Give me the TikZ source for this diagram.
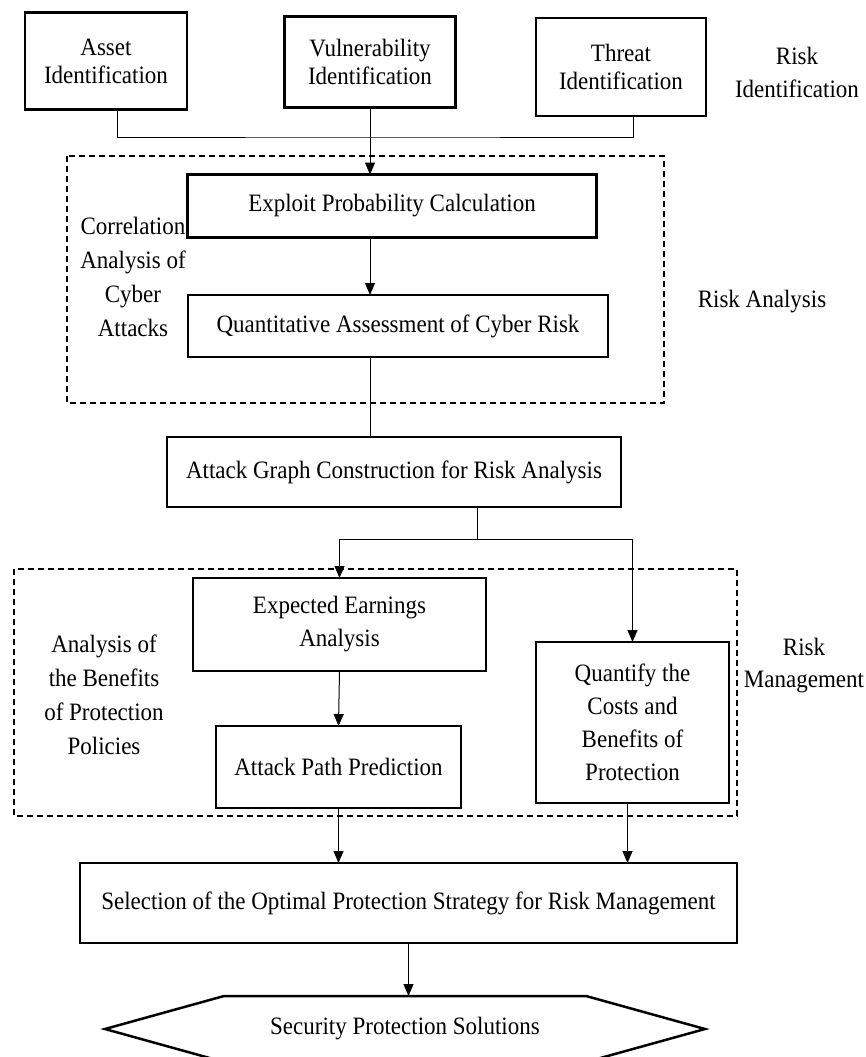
\documentclass[tikz,border=0pt]{standalone}
\usepackage{fontspec}
\setmainfont{Liberation Serif}[FakeStretch=0.92]
\usetikzlibrary{arrows.meta, calc, shapes.symbols}

\tikzset{
  blockbox/.style={draw, line width=2.5pt, inner sep=0pt, outer sep=0pt, align=center,
    font=\fontsize{25}{33}\selectfont},
  toptext/.style={font=\fontsize{25}{28}\selectfont},
  sidenote/.style={align=center, inner sep=0pt, font=\fontsize{25}{34}\selectfont},
  groupframe/.style={draw, line width=2pt, dash pattern=on 6pt off 4pt},
  link/.style={line width=1pt},
  flow/.style={line width=1pt, -{Triangle[length=12pt,width=10pt]}},
}

\begin{document}
\begin{tikzpicture}[x=1pt, y=-1pt]
    \useasboundingbox (0,0) rectangle (866,1057);

    \node[blockbox, toptext, minimum width=162, minimum height=97] (asset) at (106,61) {Asset\\Identification};
    \node[blockbox, toptext, minimum width=171, minimum height=91] (vuln) at (370,62) {Vulnerability\\Identification};
    \node[blockbox, toptext, minimum width=170, minimum height=98] (threat) at (621,67) {Threat\\Identification};
    \node[sidenote, font=\fontsize{25}{33}\selectfont] (riskid) at (797,72) {Risk\\Identification};
    \coordinate (merge) at (370,137);

    \draw[groupframe] (67,156) rectangle (664,403);
    \node[blockbox, minimum width=409, minimum height=63] (exploit) at (392,206) {Exploit Probability Calculation};
    \node[blockbox, minimum width=420, minimum height=62] (quant) at (398,326) {Quantitative Assessment of Cyber Risk};
    \node[sidenote] (corr) at (133,277) {Correlation\\Analysis of\\Cyber\\Attacks};
    \node[sidenote] (riskan) at (762,302) {Risk Analysis};

    \node[blockbox, minimum width=454, minimum height=70] (graph) at (394,472) {Attack Graph Construction for Risk Analysis};
    \coordinate (split) at (477,539);

    \draw[groupframe] (14,569) rectangle (737,816);
    \node[blockbox, minimum width=293, minimum height=93] (earn) at (339.5,624.5) {Expected Earnings\\Analysis};
    \node[blockbox, minimum width=245, minimum height=82] (path) at (338.5,767) {Attack Path Prediction};
    \node[blockbox, minimum width=193, minimum height=161] (cost) at (632.5,722.5) {Quantify the\\Costs and\\Benefits of\\Protection};
    \node[sidenote] (benefit) at (104,695) {Analysis of\\the Benefits\\of Protection\\Policies};
    \node[sidenote, font=\fontsize{25}{32}\selectfont] (riskman) at (804,666) {Risk\\Management};

    \node[blockbox, minimum width=657, minimum height=80] (select) at (408.5,903) {Selection of the Optimal Protection Strategy for Risk Management};
    \node[blockbox, signal, signal to=west and east, signal pointer angle=31,
      minimum width=600, minimum height=66] (solution) at (405,1029) {Security Protection Solutions};

    \draw[link] ([xshift=11]asset.south) |- (merge) -| ([xshift=12]threat.south);
    \draw[flow] (vuln.south) -- (vuln.south |- exploit.north);
    \draw[flow] (vuln.south |- exploit.south) -- (vuln.south |- quant.north);
    \draw[link] (vuln.south |- quant.south) -- (vuln.south |- graph.north);
    \draw[link] (graph.south -| split) -- (split);
    \draw[flow] (split) -| (earn.north);
    \draw[flow] (split) -| (cost.north);
    \draw[flow] (earn.south) -- (path.north);
    \draw[flow] (path.south) -- (path.south |- select.north);
    \draw[flow] ([xshift=-5]cost.south) -- ([xshift=-5]cost.south |- select.north);
    \draw[flow] (select.south) -- (select.south |- solution.north);
  \end{tikzpicture}
\end{document}
